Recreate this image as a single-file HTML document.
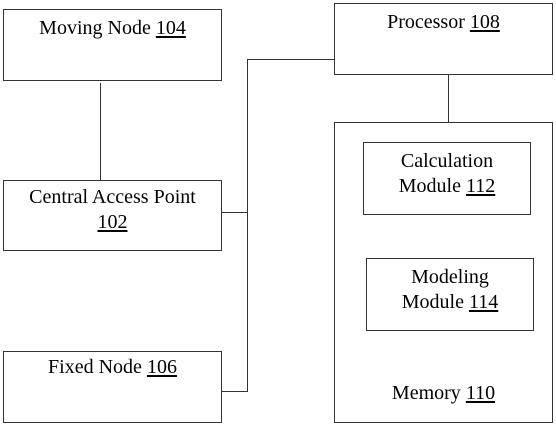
<!DOCTYPE html>
<html><head><style>
body{margin:0;width:556px;height:427px;background:#fff;position:relative;overflow:hidden;font-family:"Liberation Serif",serif;color:#000}
.b{position:absolute;border:1.3px solid #333;box-sizing:border-box;background:#fff}
.t{position:absolute;font-size:20px;line-height:25px;text-align:center;white-space:nowrap}
.l{position:absolute;background:#333}
u{text-decoration:underline;text-underline-offset:2px}
</style></head><body>
<div class="l" style="left:100px;top:83px;width:1.3px;height:97px"></div>
<div class="l" style="left:247px;top:59px;width:1.3px;height:333px"></div>
<div class="l" style="left:221px;top:212px;width:27px;height:1.3px"></div>
<div class="l" style="left:221px;top:391px;width:27px;height:1.3px"></div>
<div class="l" style="left:247px;top:59px;width:88px;height:1.3px"></div>
<div class="l" style="left:448px;top:74px;width:1.3px;height:48px"></div>

<div class="b" style="left:3px;top:9px;width:219px;height:72px"></div>
<div class="t" style="left:3px;top:16px;width:219px">Moving Node <u>104</u></div>

<div class="b" style="left:3px;top:180px;width:219px;height:71px"></div>
<div class="t" style="left:3px;top:185px;width:219px">Central Access Point<br><u>102</u></div>

<div class="b" style="left:3px;top:351px;width:219px;height:72px"></div>
<div class="t" style="left:3px;top:355px;width:219px">Fixed Node <u>106</u></div>

<div class="b" style="left:334px;top:3px;width:219px;height:72px"></div>
<div class="t" style="left:334px;top:10px;width:219px">Processor <u>108</u></div>

<div class="b" style="left:334px;top:122px;width:219px;height:301px"></div>
<div class="t" style="left:334px;top:381px;width:219px">Memory <u>110</u></div>

<div class="b" style="left:363px;top:142px;width:168px;height:73px"></div>
<div class="t" style="left:363px;top:149px;width:168px">Calculation<br>Module <u>112</u></div>

<div class="b" style="left:366px;top:258px;width:168px;height:73px"></div>
<div class="t" style="left:366px;top:265px;width:168px">Modeling<br>Module <u>114</u></div>
</body></html>
